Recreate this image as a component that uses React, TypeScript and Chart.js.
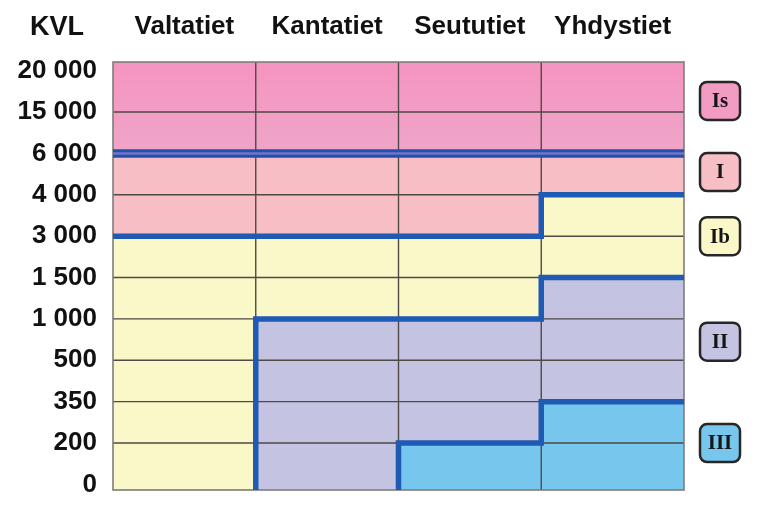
import { useEffect, useRef } from 'react';
import { Chart, registerables } from 'chart.js';

Chart.register(...registerables);

// ---- data ----
const categories = ['Valtatiet', 'Kantatiet', 'Seututiet', 'Yhdystiet'];
const kvlTickLabels = ['0', '200', '350', '500', '1 000', '1 500', '3 000', '4 000', '6 000', '15 000', '20 000'];
const classNames = ['III', 'II', 'Ib', 'I', 'Is'];
// upper boundary of each class per road type, as an index into kvlTickLabels (0 = class absent)
const upperIII = [0, 0, 1, 2];
const upperII = [0, 4, 4, 5];
const upperIb = [6, 6, 6, 7];
const upperI = [8, 8, 8, 8];
// where the class badges sit on the KVL axis
const classLabelLevels = [1.0, 3.45, 6.0, 7.55, 9.27];

// ---- styling ----
const Y_MIN = -0.135;
const Y_MAX = 10.21;
const classColors = ['#76C6EE', '#C4C3E1', '#FAF7C8', '#F7BEC6', '#F29CC4'];
const BLUE = '#1F5AB4';
const FONT = 'Liberation Sans, Arial, sans-serif';

const bounds = [upperIII, upperII, upperIb, upperI];
const lo = (v: number) => (v <= 0 ? Y_MIN : v);

function bandData(k: number) {
  return categories.map((_, i) => {
    const low = k === 0 ? Y_MIN : lo(bounds[k - 1][i]);
    const high = k === bounds.length ? Y_MAX : lo(bounds[k][i]);
    return { x: i + 0.5, y: [low, high] };
  });
}

function stepLine(levels: number[]) {
  const pts: { x: number; y: number }[] = [];
  levels.forEach((lv, i) => {
    if (lv <= 0) return;
    if (pts.length === 0 && i > 0) pts.push({ x: i, y: Y_MIN });
    const last = pts[pts.length - 1];
    if (!last || last.x !== i || last.y !== lv) pts.push({ x: i, y: lv });
    pts.push({ x: i + 1, y: lv });
  });
  return pts;
}

const gridPlugin = {
  id: 'gridUnderLines',
  beforeDatasetsDraw(chart: any) {
    chart.$gridDone = false;
  },
  beforeDatasetDraw(chart: any, args: any) {
    if (chart.$gridDone || args.meta.type !== 'line') return;
    chart.$gridDone = true;
    const { ctx, chartArea: a, scales } = chart;
    const x = scales.x;
    const y = scales.y;
    ctx.save();
    ctx.strokeStyle = '#4f4a46';
    ctx.lineWidth = 1.4;
    ctx.beginPath();
    for (let k = 1; k < kvlTickLabels.length - 1; k++) {
      const py = y.getPixelForValue(k);
      ctx.moveTo(a.left, py);
      ctx.lineTo(a.right, py);
    }
    for (let i = 1; i < categories.length; i++) {
      const px = x.getPixelForValue(i);
      ctx.moveTo(px, a.top);
      ctx.lineTo(px, a.bottom);
    }
    ctx.stroke();
    ctx.strokeStyle = '#7d7d7d';
    ctx.lineWidth = 1.6;
    ctx.strokeRect(a.left, a.top, a.right - a.left, a.bottom - a.top);
    ctx.restore();
  },
};

const decorPlugin = {
  id: 'decor',
  afterDraw(chart: any) {
    const { ctx, chartArea: a, scales } = chart;
    const y = scales.y;
    ctx.save();
    ctx.fillStyle = '#111';
    ctx.font = `bold 27px ${FONT}`;
    ctx.textAlign = 'center';
    ctx.textBaseline = 'alphabetic';
    ctx.fillText('KVL', 57, 35);

    const cx = a.right + 36;
    classNames.forEach((name, k) => {
      const cy = y.getPixelForValue(classLabelLevels[k]);
      const w = 40;
      const h = 38;
      ctx.beginPath();
      (ctx as any).roundRect(cx - w / 2, cy - h / 2, w, h, 7);
      ctx.fillStyle = classColors[k];
      ctx.fill();
      ctx.lineWidth = 2.5;
      ctx.strokeStyle = '#262626';
      ctx.stroke();
      ctx.fillStyle = '#151515';
      ctx.font = 'bold 21px Liberation Serif, Times New Roman, serif';
      ctx.textAlign = 'center';
      ctx.textBaseline = 'middle';
      ctx.fillText(name, cx, cy + 1);
    });
    ctx.restore();
  },
};

export default function App() {
  const ref = useRef<HTMLCanvasElement | null>(null);

  useEffect(() => {
    if (!ref.current) return;
    const isGradient = (ctx: any) => {
      const chart = ctx.chart;
      const area = chart.chartArea;
      if (!area) return classColors[4];
      const g = chart.ctx.createLinearGradient(0, area.top, 0, chart.scales.y.getPixelForValue(8));
      g.addColorStop(0, '#F594C0');
      g.addColorStop(1, '#EFA5C8');
      return g;
    };

    const bars = classNames.map((name, k) => ({
      type: 'bar' as const,
      label: name,
      data: bandData(k) as any,
      backgroundColor: k === 4 ? isGradient : classColors[k],
      borderWidth: 0,
      grouped: false,
      categoryPercentage: 1,
      barPercentage: 1,
      order: 5,
    }));

    const lineBase = {
      type: 'line' as const,
      pointRadius: 0,
      tension: 0,
      fill: false,
      borderJoinStyle: 'miter' as const,
      borderCapStyle: 'butt' as const,
    };

    const lines = [
      { ...lineBase, label: 'I/Is', data: stepLine(upperI), borderColor: '#2350B0', borderWidth: 8.5, order: 2 },
      { ...lineBase, label: 'I/Is inner', data: stepLine(upperI), borderColor: '#7077C6', borderWidth: 2.5, order: 1 },
      { ...lineBase, label: 'Ib/I', data: stepLine(upperIb), borderColor: BLUE, borderWidth: 5.5, order: 1 },
      { ...lineBase, label: 'II/Ib', data: stepLine(upperII), borderColor: BLUE, borderWidth: 5.5, order: 1 },
      { ...lineBase, label: 'III/II', data: stepLine(upperIII), borderColor: BLUE, borderWidth: 5.5, order: 1 },
    ];

    const chart = new Chart(ref.current, {
      type: 'bar',
      data: { datasets: [...bars, ...lines] as any },
      options: {
        animation: false,
        responsive: true,
        maintainAspectRatio: false,
        layout: { padding: { left: 0, top: 0, right: 83, bottom: 20 } },
        plugins: { legend: { display: false }, tooltip: { enabled: false } },
        scales: {
          x: {
            type: 'linear',
            position: 'top',
            min: 0,
            max: categories.length,
            offset: false,
            grid: { display: false, drawTicks: false },
            border: { display: false },
            afterBuildTicks: (scale: any) => {
              scale.ticks = categories.map((_, i) => ({ value: i + 0.5 }));
            },
            afterFit: (scale: any) => {
              scale.height = 62;
              scale.paddingLeft = 0;
              scale.paddingRight = 0;
            },
            ticks: {
              autoSkip: false,
              maxRotation: 0,
              padding: 20,
              color: '#111',
              font: { family: FONT, weight: 'bold', size: 26 },
              callback: (_v: any, i: number) => categories[i],
            },
          },
          y: {
            type: 'linear',
            min: Y_MIN,
            max: Y_MAX,
            grid: { display: false, drawTicks: false },
            border: { display: false },
            afterBuildTicks: (scale: any) => {
              scale.ticks = kvlTickLabels.map((_, i) => ({ value: i }));
            },
            afterFit: (scale: any) => {
              scale.width = 113;
              scale.paddingTop = 0;
              scale.paddingBottom = 0;
            },
            ticks: {
              autoSkip: false,
              padding: 16,
              color: '#111',
              font: { family: FONT, weight: 'bold', size: 26 },
              callback: (_v: any, i: number) => kvlTickLabels[i],
            },
          },
        },
      },
      plugins: [gridPlugin, decorPlugin],
    } as any);

    return () => chart.destroy();
  }, []);

  return (
    <div style={{ position: 'fixed', left: 0, top: 0, width: 767, height: 510, background: '#fff' }}>
      <canvas ref={ref} />
    </div>
  );
}
